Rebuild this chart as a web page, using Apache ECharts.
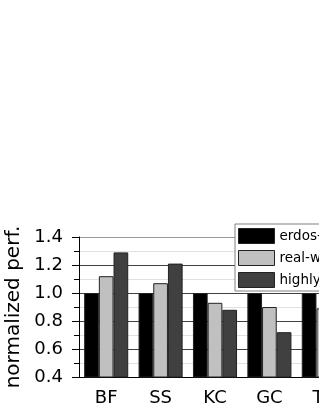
<!DOCTYPE html>
<html>
<head>
<meta charset="utf-8">
<script src="https://cdn.jsdelivr.net/npm/echarts@6/dist/echarts.min.js"></script>
<style>
html,body{margin:0;padding:0;width:319px;height:412px;overflow:hidden;background:#fff;}
#chart{width:400px;height:412px;}
</style>
</head>
<body>
<div id="chart"></div>
<script>
const categories = ['BF', 'SS', 'KC', 'GC', 'TC'];
const seriesNames = ['erdos-renyi', 'real-world', 'highly-skewed'];
const erdos = [1.0, 1.0, 1.0, 1.0, 1.0];
const realWorld = [1.12, 1.07, 0.93, 0.90, 0.89];
const highly = [1.29, 1.21, 0.88, 0.72, 0.80];
const yTicks = [0.4, 0.6, 0.8, 1.0, 1.2, 1.4];

const colors = ['#000000', '#c0c0c0', '#404040'];
const font = 'DejaVu Sans';

const chart = echarts.init(document.getElementById('chart'));
chart.setOption({
  animation: false,
  grid: { left: 79, top: 237, right: 49, bottom: 35, containLabel: false, outerBoundsMode: 'none' },
  legend: {
    orient: 'vertical',
    left: 235, top: 224,
    padding: [4, 10, 3, 3],
    itemGap: 6,
    itemWidth: 36, itemHeight: 15,
    icon: 'rect',
    backgroundColor: '#fff',
    borderColor: '#808080', borderWidth: 1,
    textStyle: { fontFamily: font, fontSize: 13.5, color: '#000' },
    itemStyle: { borderColor: '#222', borderWidth: 1 },
    data: seriesNames
  },
  xAxis: [{
    type: 'category', data: categories, position: 'bottom',
    axisLine: { lineStyle: { color: '#000', width: 1 } },
    axisTick: { alignWithLabel: true, length: 8, lineStyle: { color: '#000' } },
    axisLabel: { fontFamily: font, fontSize: 18, color: '#000', margin: 12 },
    splitLine: { show: false }
  }, {
    type: 'category', data: categories, position: 'bottom', gridIndex: 0,
    axisLine: { show: false },
    axisTick: { length: 4, lineStyle: { color: '#000' } },
    axisLabel: { show: false },
    splitLine: { show: false }
  }],
  yAxis: {
    type: 'value', min: 0.4, max: 1.4, interval: 0.2,
    name: 'normalized perf.', nameLocation: 'middle', nameGap: 52,
    nameTextStyle: { fontFamily: font, fontSize: 20, color: '#000' },
    axisLine: { show: true, lineStyle: { color: '#000', width: 1 } },
    axisTick: { show: true, length: 7, lineStyle: { color: '#000' } },
    minorTick: { show: true, splitNumber: 2, length: 5, lineStyle: { color: '#000' } },
    axisLabel: {
      fontFamily: font, fontSize: 18, color: '#000', margin: 16,
      formatter: v => v.toFixed(1)
    },
    splitLine: { show: true, lineStyle: { color: ['#404040', '#404040', '#404040', '#404040', '#404040', '#999999'], width: 1 } },
    minorSplitLine: { show: true, lineStyle: { color: '#e0e0e0', width: 1 } }
  },
  series: [
    { name: seriesNames[0], type: 'bar', data: erdos, barGap: '0%', barCategoryGap: '19%',
      itemStyle: { color: colors[0], borderColor: '#222', borderWidth: 1 } },
    { name: seriesNames[1], type: 'bar', data: realWorld, barGap: '0%', barCategoryGap: '19%',
      itemStyle: { color: colors[1], borderColor: '#222', borderWidth: 1 } },
    { name: seriesNames[2], type: 'bar', data: highly, barGap: '0%', barCategoryGap: '19%',
      itemStyle: { color: colors[2], borderColor: '#222', borderWidth: 1 } }
  ]
});
</script>
</body>
</html>
